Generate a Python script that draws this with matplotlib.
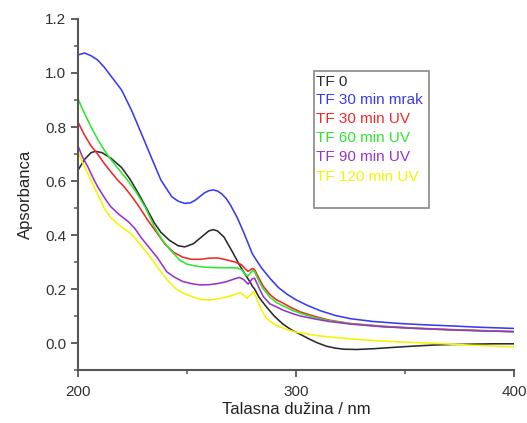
import matplotlib
matplotlib.use("Agg")
import matplotlib.pyplot as plt
from matplotlib.patches import Rectangle
from matplotlib.ticker import MultipleLocator, FormatStrFormatter

plt.rcParams['font.family'] = ['Liberation Sans', 'DejaVu Sans']

# ---------------- data ----------------
x_tf0 = [200, 203, 206, 208, 211, 215, 220, 224, 228, 232, 235, 238, 242, 246, 249, 253, 257, 260, 262, 264,
         267, 271, 274, 277, 279, 280, 281, 283, 286, 290, 294, 298, 302, 306, 310, 314, 318, 322, 328, 336,
         345, 355, 365, 375, 390, 400]
y_tf0 = [0.64, 0.68, 0.705, 0.71, 0.705, 0.685, 0.65, 0.605, 0.55, 0.49, 0.445, 0.41, 0.38, 0.36, 0.356, 0.368,
         0.395, 0.415, 0.42, 0.415, 0.392, 0.335, 0.29, 0.25, 0.225, 0.21, 0.2, 0.17, 0.138, 0.1, 0.07, 0.048,
         0.032, 0.015, 0.0, -0.012, -0.019, -0.023, -0.024, -0.021, -0.016, -0.011, -0.007, -0.005, -0.003, -0.003]

x_mrak = [200, 203, 206, 209, 212, 215, 220, 224.5, 229, 233.5, 238, 243, 246, 249, 251.5, 254, 256, 258, 260,
          262, 264, 266, 268, 270, 273, 276, 280, 284, 288, 292, 296, 300, 305, 311, 318, 325, 335, 348, 360,
          372, 385, 400]
y_mrak = [1.067, 1.074, 1.064, 1.048, 1.022, 0.99, 0.937, 0.863, 0.777, 0.69, 0.604, 0.542, 0.525, 0.517,
          0.519, 0.53, 0.543, 0.556, 0.564, 0.567, 0.563, 0.552, 0.535, 0.51, 0.465, 0.41, 0.33, 0.28, 0.24,
          0.205, 0.18, 0.16, 0.14, 0.12, 0.102, 0.09, 0.08, 0.072, 0.067, 0.063, 0.058, 0.054]

x_uv30 = [200, 203, 206, 209, 212, 215, 218, 221, 224, 228, 232, 236, 240, 244, 248, 252, 256, 260, 264, 268,
          272, 275, 277, 278, 280, 281, 283, 285, 288, 291, 294, 298, 302, 308, 315, 325, 340, 355, 370, 385, 400]
y_uv30 = [0.818, 0.77, 0.73, 0.70, 0.665, 0.635, 0.605, 0.58, 0.55, 0.505, 0.455, 0.41, 0.365, 0.335, 0.318,
          0.31, 0.31, 0.314, 0.315, 0.308, 0.3, 0.29, 0.272, 0.265, 0.276, 0.272, 0.24, 0.21, 0.18, 0.16, 0.148,
          0.13, 0.115, 0.1, 0.085, 0.072, 0.062, 0.055, 0.05, 0.046, 0.042]

x_uv60 = [200, 203, 206, 209, 212, 215, 219, 223, 227, 231, 235, 238, 241, 244, 247, 250, 254, 258, 263, 268,
          273, 275, 277, 278, 280, 281, 283, 285, 288, 291, 294, 298, 302, 308, 315, 325, 340, 355, 370, 385, 400]
y_uv60 = [0.904, 0.85, 0.8, 0.755, 0.715, 0.68, 0.64, 0.6, 0.555, 0.5, 0.43, 0.39, 0.357, 0.33, 0.305, 0.292,
          0.285, 0.281, 0.279, 0.279, 0.278, 0.272, 0.252, 0.248, 0.268, 0.265, 0.228, 0.2, 0.17, 0.15, 0.138,
          0.122, 0.11, 0.095, 0.083, 0.071, 0.061, 0.054, 0.049, 0.045, 0.042]

x_uv90 = [200, 202, 204.5, 207, 209, 212, 215, 219, 223, 226, 229, 233, 236.5, 240.7, 244, 248, 252, 256, 260,
          264, 268, 272, 274, 276, 278, 280, 281, 283, 285, 288, 291, 294, 298, 302, 308, 315, 325, 340, 355,
          370, 385, 400]
y_uv90 = [0.73, 0.69, 0.653, 0.61, 0.579, 0.54, 0.505, 0.475, 0.45, 0.425, 0.39, 0.35, 0.315, 0.264, 0.245,
          0.228, 0.22, 0.215, 0.216, 0.22, 0.227, 0.238, 0.243, 0.235, 0.218, 0.238, 0.24, 0.205, 0.172, 0.145,
          0.134, 0.122, 0.11, 0.1, 0.09, 0.08, 0.07, 0.06, 0.054, 0.049, 0.045, 0.042]

x_uv120 = [200, 202, 204.5, 207, 209, 212, 215, 219, 222, 225, 229, 233, 237, 241, 245, 249, 253, 257, 261,
           265, 269, 272, 274.5, 276, 277.5, 279, 280.5, 282, 284, 286.5, 290, 295, 300, 310, 320, 332, 345,
           363, 380, 400]
y_uv120 = [0.708, 0.67, 0.628, 0.585, 0.55, 0.5, 0.465, 0.435, 0.418, 0.4, 0.36, 0.32, 0.275, 0.233, 0.2,
           0.182, 0.17, 0.16, 0.16, 0.165, 0.172, 0.18, 0.186, 0.178, 0.165, 0.178, 0.19, 0.165, 0.125, 0.09,
           0.07, 0.052, 0.04, 0.027, 0.019, 0.011, 0.005, -0.001, -0.008, -0.014]

labels = ["TF 0", "TF 30 min mrak", "TF 30 min UV", "TF 60 min UV", "TF 90 min UV", "TF 120 min UV"]
colors = ["#2b2b2b", "#3a3af0", "#f02828", "#2ee82e", "#9a33cc", "#f5f500"]
series = [(x_tf0, y_tf0), (x_mrak, y_mrak), (x_uv30, y_uv30), (x_uv60, y_uv60), (x_uv90, y_uv90),
          (x_uv120, y_uv120)]

# ---------------- figure ----------------
fig = plt.figure(figsize=(5.27, 4.23), dpi=100)
ax = fig.add_axes([78 / 527, 1 - 370 / 423, 436 / 527, 351 / 423])

for (xs, ys), c in zip(series, colors):
    ax.plot(xs, ys, color=c, lw=1.15, solid_joinstyle='round')

ax.set_xlim(200, 400)
ax.set_ylim(-0.1, 1.2)
ax.xaxis.set_major_locator(MultipleLocator(100))
ax.xaxis.set_minor_locator(MultipleLocator(50))
ax.yaxis.set_major_locator(MultipleLocator(0.2))
ax.yaxis.set_minor_locator(MultipleLocator(0.1))
ax.yaxis.set_major_formatter(FormatStrFormatter('%.1f'))

for s in ['top', 'right']:
    ax.spines[s].set_visible(False)
for s in ['left', 'bottom']:
    ax.spines[s].set_color('#555555')
    ax.spines[s].set_linewidth(1.5)

ax.tick_params(which='major', direction='out', length=5, width=1.3, color='#555555',
               labelsize=11, labelcolor='#333333')
ax.tick_params(which='minor', direction='out', length=3, width=1.1, color='#555555')
ax.tick_params(axis='x', pad=6)

ax.set_xlabel("Talasna dužina / nm", fontsize=12, color='#222222', labelpad=2)
ax.set_ylabel("Apsorbanca", fontsize=12, color='#222222', labelpad=9)

# legend box (text only, coloured)
ax.add_patch(Rectangle((0.541, 0.4615), 0.264, 0.3905, transform=ax.transAxes,
                       facecolor='white', edgecolor='#888888', lw=1.2, zorder=5))
ypos = [0.8205, 0.769, 0.715, 0.661, 0.607, 0.549]
for lab, c, yy in zip(labels, colors, ypos):
    ax.text(0.547, yy, lab, color=c, fontsize=11, transform=ax.transAxes,
            va='center', ha='left', zorder=6)

fig.savefig("out.png", dpi=100)
